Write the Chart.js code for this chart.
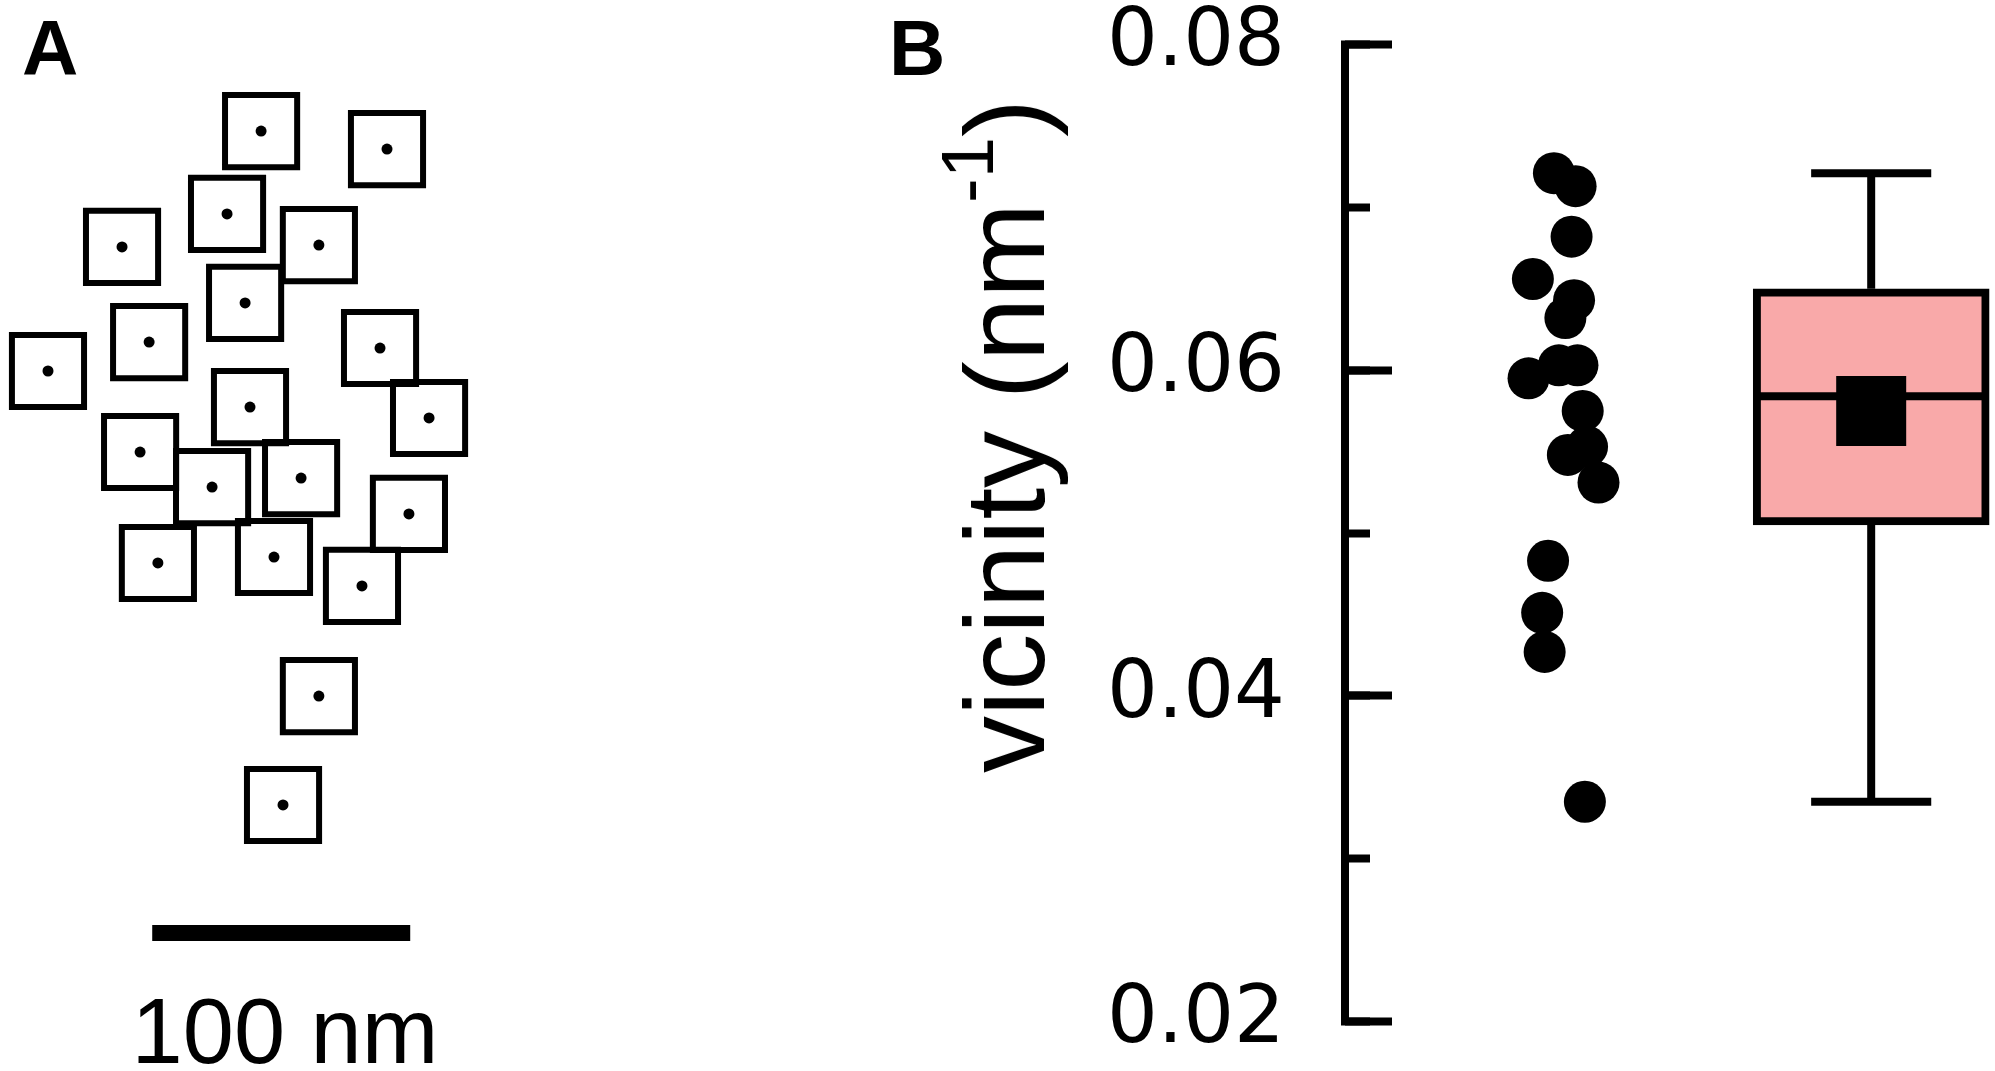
<!DOCTYPE html>
<html>
<head>
<meta charset="utf-8">
<title>vicinity</title>
<script src="https://cdn.jsdelivr.net/npm/chart.js@4.4.1/dist/chart.umd.min.js"></script>
<style>
  body { margin: 0; background: #fff; }
  #page { position: relative; width: 1995px; height: 1071px; overflow: hidden;
          font-family: 'Liberation Sans', Arial, sans-serif; color: #000; }
  canvas { position: absolute; top: 0; }
  .txt { position: absolute; line-height: 1; white-space: nowrap; }
  .panel { font-weight: bold; font-size: 78px; top: 9px; }
</style>
</head>
<body>
<div id="page">
  <canvas id="chartA" width="500" height="1071" style="left:0"></canvas>
  <canvas id="chartB" width="1115" height="1071" style="left:880px"></canvas>
  <div class="txt panel" style="left:22px">A</div>
  <div class="txt panel" style="left:889px">B</div>
  <div class="txt" style="left:85px;width:400px;text-align:center;top:985px;font-size:92px">100 nm</div>
  <div class="txt" style="left:1005px;top:436px;font-size:114px;transform:translate(-50%,-50%) rotate(-90deg)">vicinity (nm<span style="font-size:0.65em;position:relative;top:-0.69em">-1</span>)</div>
</div>
<script>
// Panel A: particle centres in nm, measured from the top-left of the field
const particleX = [101.2, 150.0, 88.0, 47.3, 123.6, 95.0, 57.8, 18.6, 147.3, 96.9,
                   166.3, 54.3, 82.2, 116.7, 158.5, 61.2, 106.2, 140.3, 123.6, 109.7];
const particleY = [50.8, 57.8, 82.9, 95.7, 95.0, 117.4, 132.6, 143.8, 134.9, 157.8,
                   162.0, 175.2, 188.8, 185.3, 199.2, 218.2, 215.9, 227.1, 269.8, 312.0];
const scaleBarX = [59, 159]; // 100 nm
const scaleBarY = 361.6;

// Panel B: individual vicinity values (nm^-1) and their horizontal jitter
const vicinity = [0.0721, 0.0713, 0.0682, 0.0656, 0.0643, 0.0632, 0.0603, 0.0603, 0.0595,
                  0.0575, 0.0548, 0.0553, 0.0531, 0.0483, 0.0451, 0.0427, 0.0335];
const jitter = [0.975, 1.045, 1.032, 0.907, 1.040, 1.012, 0.991, 1.051, 0.893,
                1.068, 1.020, 1.082, 1.119, 0.956, 0.937, 0.945, 1.075];

// box summary
const whiskerMin = 0.0335;
const q1 = 0.0505;
const median = 0.0584;
const mean = 0.0575;
const q3 = 0.0650;
const whiskerMax = 0.0721;

const yTicks = [0.02, 0.04, 0.06, 0.08];
const yMinorTicks = [0.02, 0.03, 0.04, 0.05, 0.06, 0.07, 0.08];

const PX_PER_NM = 2.58;
const BOX_X = 2;
const BOX_HALF = 0.368;
const CAP_HALF = 0.194;

// ---- Panel A ----
const particles = particleX.map((x, i) => ({ x: x, y: particleY[i] }));

new Chart(document.getElementById('chartA'), {
  type: 'scatter',
  data: {
    datasets: [
      {
        data: particles,
        pointStyle: 'rect',
        pointRadius: 51,
        pointHoverRadius: 51,
        borderWidth: 6,
        borderColor: '#000',
        backgroundColor: 'rgba(0,0,0,0)',
        clip: false
      },
      {
        data: particles,
        pointRadius: 5.5,
        pointHoverRadius: 5.5,
        borderWidth: 0,
        backgroundColor: '#000',
        clip: false
      },
      {
        type: 'line',
        data: scaleBarX.map(x => ({ x: x, y: scaleBarY })),
        borderColor: '#000',
        borderWidth: 16,
        borderCapStyle: 'butt',
        pointRadius: 0,
        clip: false
      }
    ]
  },
  options: {
    responsive: false,
    animation: false,
    events: [],
    layout: { padding: 0, autoPadding: false },
    plugins: { legend: { display: false }, tooltip: { enabled: false } },
    scales: {
      x: { type: 'linear', display: false, min: 0, max: 500 / PX_PER_NM },
      y: { type: 'linear', display: false, reverse: true, min: 0, max: 1071 / PX_PER_NM }
    }
  }
});

// ---- Panel B ----
const dots = vicinity.map((v, i) => ({ x: jitter[i], y: v }));

function segment(x1, y1, x2, y2) {
  return {
    type: 'line',
    data: [{ x: x1, y: y1 }, { x: x2, y: y2 }],
    borderColor: '#000',
    borderWidth: 8,
    borderCapStyle: 'butt',
    pointRadius: 0,
    pointHoverRadius: 0,
    order: 5
  };
}

new Chart(document.getElementById('chartB'), {
  type: 'scatter',
  data: {
    datasets: [
      {
        type: 'bar',
        data: [{ x: BOX_X, y: [q1, q3] }],
        backgroundColor: '#F9A9A9',
        borderColor: '#000',
        borderWidth: 8,
        borderSkipped: false,
        barThickness: 236,
        order: 10
      },
      segment(BOX_X, q3, BOX_X, whiskerMax),
      segment(BOX_X, whiskerMin, BOX_X, q1),
      segment(BOX_X - CAP_HALF, whiskerMax, BOX_X + CAP_HALF, whiskerMax),
      segment(BOX_X - CAP_HALF, whiskerMin, BOX_X + CAP_HALF, whiskerMin),
      segment(BOX_X - BOX_HALF, median, BOX_X + BOX_HALF, median),
      {
        data: [{ x: BOX_X, y: mean }],
        pointStyle: 'rect',
        pointRadius: 49.5,
        pointHoverRadius: 49.5,
        backgroundColor: '#000',
        borderWidth: 0,
        order: 1
      },
      {
        data: dots,
        pointRadius: 21,
        pointHoverRadius: 21,
        backgroundColor: '#000',
        borderWidth: 0,
        order: 2
      }
    ]
  },
  options: {
    responsive: false,
    animation: false,
    events: [],
    layout: { padding: { top: 44.5, bottom: 49.4, left: 0, right: 0 }, autoPadding: false },
    plugins: { legend: { display: false }, tooltip: { enabled: false } },
    scales: {
      x: { type: 'linear', display: false, min: 0.3, max: 2.4, offset: false },
      y: {
        type: 'linear',
        position: 'left',
        min: 0.02,
        max: 0.08,
        beginAtZero: false,
        afterBuildTicks: s => { s.ticks = yTicks.map(v => ({ value: v })); },
        afterFit: s => { s.width = 465; s.paddingTop = 0; s.paddingBottom = 0; },
        border: { display: true, color: '#000', width: 8 },
        grid: { drawOnChartArea: false, drawTicks: true, tickLength: -47, tickWidth: 8, tickColor: '#000' },
        ticks: {
          color: '#000',
          padding: 107,
          font: { family: 'DejaVu Sans', size: 80 },
          callback: v => v.toFixed(2)
        }
      },
      yMinor: {
        type: 'linear',
        position: 'left',
        weight: -1,
        min: 0.02,
        max: 0.08,
        afterBuildTicks: s => { s.ticks = yMinorTicks.map(v => ({ value: v })); },
        afterFit: s => { s.width = 0; s.paddingTop = 0; s.paddingBottom = 0; },
        border: { display: false },
        grid: { drawOnChartArea: false, drawTicks: true, tickLength: -25, tickWidth: 8, tickColor: '#000' },
        ticks: { display: false }
      }
    }
  }
});
</script>
</body>
</html>
